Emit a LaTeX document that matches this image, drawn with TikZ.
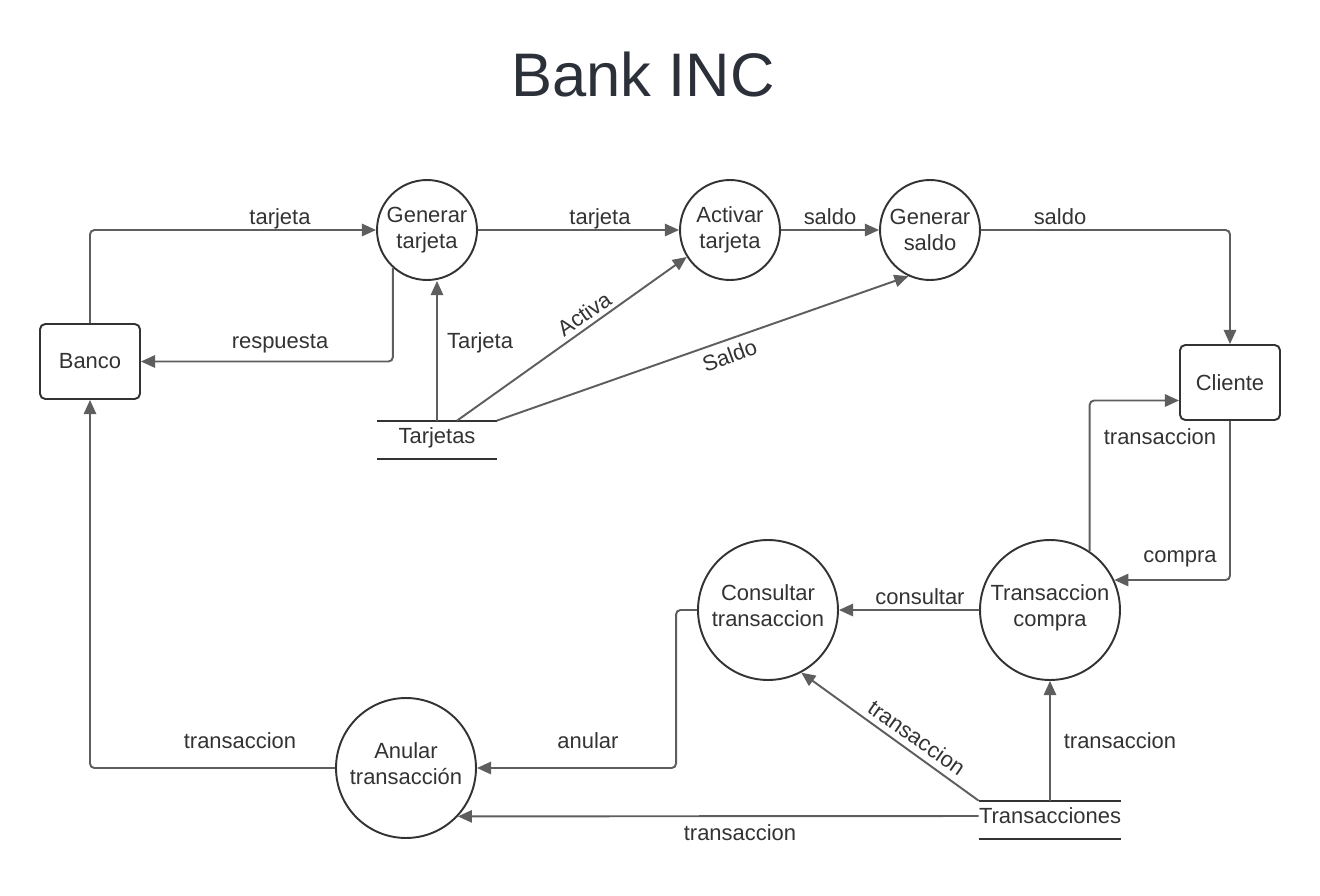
\documentclass[tikz,border=0pt]{standalone}
\usepackage{fontspec}
\setmainfont{Liberation Sans}
\usetikzlibrary{calc,arrows.meta}

\definecolor{ink}{HTML}{333333}
\definecolor{wire}{HTML}{5E5E5E}
\definecolor{head}{HTML}{2B3039}

% deeper last line, lifts the text in the large circles
\newcommand\procstrut{\rule[-0.16cm]{0pt}{0pt}}

\begin{document}
\begin{tikzpicture}[x=0.02cm,y=-0.02cm]

% ---------- frame ----------
\useasboundingbox (0,0) rectangle (1320,896);

% ---------- styles ----------
\tikzset{
  txt/.style  ={text=ink,font=\fontsize{12.5}{14.8}\selectfont},
  lbl/.style  ={txt,text height=0.72em,text depth=0pt},
  proc/.style ={txt,draw=ink,line width=1.1pt,circle,align=center,inner sep=0pt,minimum size=2cm},
  big/.style  ={proc,minimum size=2.8cm},
  ext/.style  ={txt,draw=ink,line width=1.1pt,rounded corners=3pt,minimum width=2cm,minimum height=1.5cm},
  store/.style={txt,inner sep=0pt,minimum height=0.76cm,text height=0.34cm,text depth=0.22cm},
  bar/.style  ={draw=ink,line width=1.1pt},
  flow/.style ={draw=wire,line width=1.1pt,rounded corners=2.5pt,-{Triangle[length=8pt,width=7pt]}}
}

% ---------- title ----------
\node[text=head,font=\fontsize{35}{40}\selectfont] (title) at (643,75) {Bank INC};

% ---------- entities ----------
\node[ext] (banco)   at (90,361.5)  {Banco};
\node[ext] (cliente) at (1230,382.5) {Cliente};

% ---------- processes ----------
\node[proc] (gt) at (427,230) {Generar\\tarjeta};
\node[proc] (at) at (730,230) {Activar\\tarjeta};
\node[proc] (gs) at (930,230) {Generar\\saldo};
\node[big]  (ct) at (768,610) {Consultar\\transaccion\procstrut};
\node[big]  (tc) at (1050,610) {Transaccion\\compra\procstrut};
\node[big]  (an) at (406,768) {Anular\\transacción\procstrut};

% ---------- stores ----------
\node[store,minimum width=2.38cm] (tj) at (437,440) {Tarjetas};
\node[store,minimum width=2.78cm] (tr) at (1050,820) {Transacciones};
\draw[bar] (tj.north west) -- (tj.north east);
\draw[bar] (tj.south west) -- (tj.south east);
\draw[bar] (tr.north west) -- (tr.north east);
\draw[bar] (tr.south west) -- (tr.south east);

% ---------- flows ----------
% top row
\draw[flow] (banco.north) |- (gt.west);
\draw[flow] (gt.228) |- (banco.east);
\draw[flow] (gt.east) -- (at.west);
\draw[flow] (at.east) -- (gs.west);
\draw[flow] (gs.east) -| (cliente.north);

% from Tarjetas
\draw[flow] (tj.north) -- (tj.north |- gt.south);
\draw[flow] ($(tj.north)+(20,0)$) -- (at.212);
\draw[flow] (tj.north east) -- (gs.245);

% right side
\draw[flow] (tc.56) |- ($(cliente.west)+(0,18)$);
\draw[flow] (cliente.south) |- (tc.25);

% bottom row
\draw[flow] (tc.west) -- (ct.east);
\draw[flow] (ct.west) -- ++(-21,0) |- (an.east);
\draw[flow] (an.west) -| (banco.south);

% from Transacciones
\draw[flow] (tr.north) -- (tr.north |- tc.south);
\draw[flow] (tr.north west) -- (ct.298);
\draw[flow] ($(tr.west)+(0,-4)$) -- (an.-43);

% ---------- labels ----------
\node[lbl] (lTarjetaA)  at (280,218) {tarjeta};
\node[lbl] (lRespuesta) at (280,342) {respuesta};
\node[lbl] (lTarjetaB)  at (600,218) {tarjeta};
\node[lbl] (lSaldoA)    at (830,218) {saldo};
\node[lbl] (lSaldoB)    at (1060,218) {saldo};
\node[lbl] (lTarjetaC)  at (480,342) {Tarjeta};
\node[lbl,rotate=35] (lActiva) at (585,315) {Activa};
\node[lbl,rotate=20] (lSaldoC) at (730,357) {Saldo};
\node[lbl] (lTransA)    at (1160,438) {transaccion};
\node[lbl] (lCompra)    at (1180,556) {compra};
\node[lbl] (lConsultar) at (920,598) {consultar};
\node[lbl] (lAnular)    at (588,742) {anular};
\node[lbl] (lTransB)    at (240,742) {transaccion};
\node[lbl] (lTransC)    at (1120,742) {transaccion};
\node[lbl,rotate=-35] (lTransD) at (916,739) {transaccion};
\node[lbl] (lTransE)    at (740,834) {transaccion};

\end{tikzpicture}
\end{document}
